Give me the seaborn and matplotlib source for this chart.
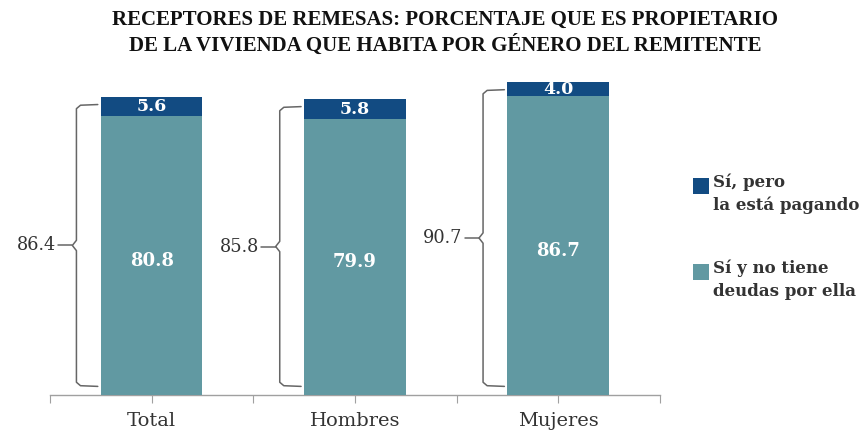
import numpy as np
import pandas as pd
import matplotlib
matplotlib.use("Agg")
import matplotlib.pyplot as plt
from matplotlib.patches import Rectangle
import seaborn as sns

# Data
categories = ['Total', 'Hombres', 'Mujeres']
sin_deuda = [80.8, 79.9, 86.7]      # Sí y no tiene deudas por ella
pagando = [5.6, 5.8, 4.0]           # Sí, pero la está pagando
totales = [86.4, 85.8, 90.7]        # propietarios (suma)
legend_labels = ['Sí, pero\nla está pagando', 'Sí y no tiene\ndeudas por ella']

df = pd.DataFrame({'cat': categories, 'sin_deuda': sin_deuda,
                   'pagando': pagando, 'total': totales})

dark = '#124b82'
teal = '#6199a2'
text_col = '#333333'
line_col = '#666666'

sns.set_style('white')
plt.rcParams['font.family'] = ['DejaVu Serif']

fig = plt.figure(figsize=(8.68, 4.32), dpi=100)
ax = fig.add_axes([0.0576, 0.0856, 0.7027, 0.7986])

# stacked bars: dark full height, teal drawn over it from the base
sns.barplot(data=df, x='cat', y='total', color=dark, width=0.5,
            saturation=1, linewidth=0, ax=ax, zorder=2)
sns.barplot(data=df, x='cat', y='sin_deuda', color=teal, width=0.5,
            saturation=1, linewidth=0, ax=ax, zorder=3)

for i, row in df.iterrows():
    # value labels
    ax.text(i, row['sin_deuda'] / 2 - 1.5, f"{row['sin_deuda']:.1f}", ha='center', va='center',
            color='white', fontsize=13, fontweight='bold', zorder=4)
    ax.text(i, row['sin_deuda'] + row['pagando'] / 2, f"{row['pagando']:.1f}", ha='center',
            va='center', color='white', fontsize=12.5, fontweight='bold', zorder=4)
    # brace to the left of each bar
    top = row['total'] - 2.2
    bot = 2.5
    xb = i - 0.37
    xr = i - 0.265
    mid = (top + bot) / 2
    ax.plot([xr, xb + 0.02, xb, xb, xb - 0.02, xb, xb, xb + 0.02, xr],
            [top, top - 0.2, top - 1.2, mid + 1.5, mid, mid - 1.5, bot + 1.2, bot + 0.2, bot],
            color=line_col, lw=1.1, clip_on=False, solid_joinstyle='round')
    ax.plot([xb - 0.02, xb - 0.09], [mid, mid], color=line_col, lw=1.1, clip_on=False)
    ax.text(xb - 0.1, mid, f"{row['total']:.1f}", ha='right', va='center',
            fontsize=12.8, color=text_col)

ax.set_xlim(-0.5, 2.5)
ax.set_ylim(0, 100)
ax.set_xlabel('')
ax.set_ylabel('')
ax.set_yticks([])
ax.set_xticks([-0.5, 0, 0.5, 1, 1.5, 2, 2.5])
ax.set_xticklabels([''] + [c for cat in categories for c in (cat, '')], fontsize=14, color=text_col)
ax.tick_params(axis='x', direction='out', length=6, color='#a0a0a0', pad=6, bottom=True)
for s in ['left', 'right', 'top']:
    ax.spines[s].set_visible(False)
ax.spines['bottom'].set_color('#a0a0a0')
ax.spines['bottom'].set_linewidth(1)

# legend drawn by hand so the squares line up with the first text line
for k, (lab, col) in enumerate(zip(legend_labels, [dark, teal])):
    yc = 0.552 - k * 0.199
    fig.add_artist(Rectangle((693 / 868, yc), 16 / 868, 16 / 432,
                             transform=fig.transFigure, facecolor=col, edgecolor='none'))
    fig.text(713 / 868, yc + 0.047, lab, ha='left', va='top', fontsize=12,
             fontweight='bold', color=text_col, linespacing=1.45)

fig.text(0.513, 0.978, 'RECEPTORES DE REMESAS: PORCENTAJE QUE ES PROPIETARIO\n'
         'DE LA VIVIENDA QUE HABITA POR GÉNERO DEL REMITENTE',
         ha='center', va='top', fontsize=15, fontweight='bold', color='#111111',
         family='Liberation Serif', linespacing=1.3)

fig.savefig('out.png', dpi=100)
